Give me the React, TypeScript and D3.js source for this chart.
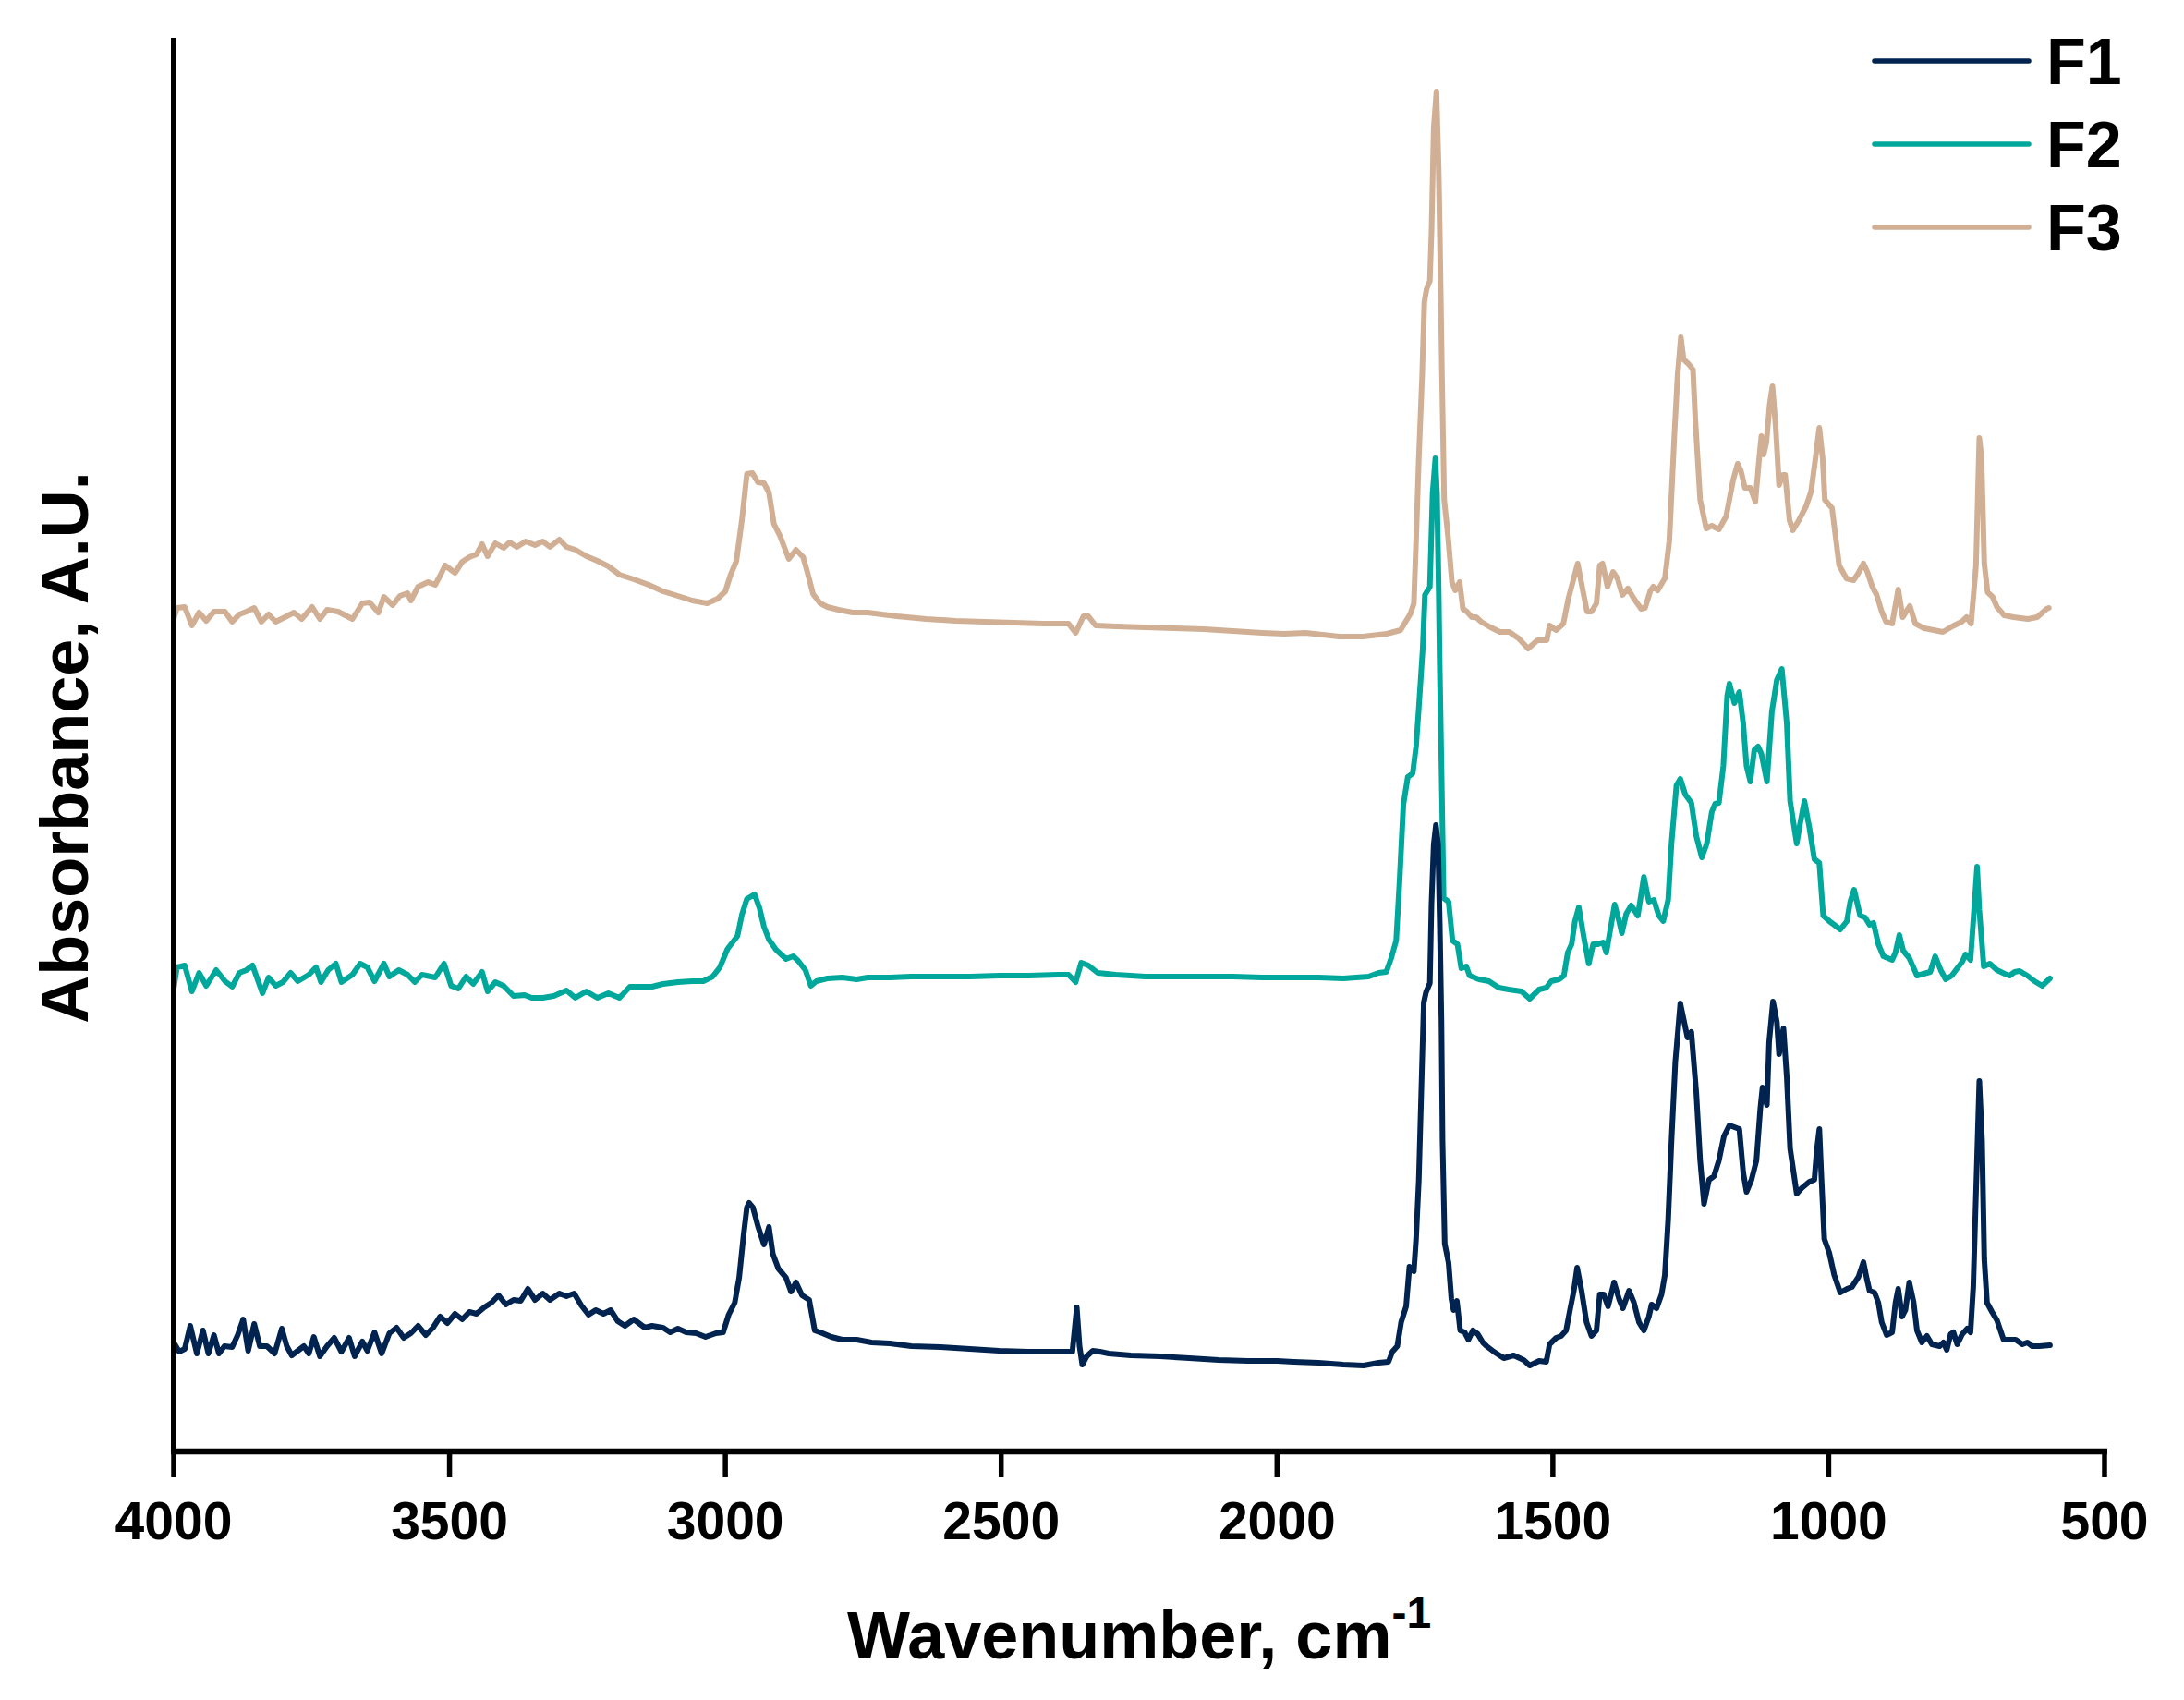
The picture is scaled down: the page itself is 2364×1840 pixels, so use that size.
import React from "react";
import * as d3 from "d3";

// ---- Data (wavenumber cm^-1, absorbance A.U., stacked offsets included) ----
const seriesNames = ["F1", "F2", "F3"];
const seriesColors = ["#00234F", "#00A89C", "#D1AF94"];
const xTicks = [4000, 3500, 3000, 2500, 2000, 1500, 1000, 500];

const f1Spectrum: [number, number][] = [
  [4000,0.118],[3990,0.108],[3980,0.111],[3970,0.136],[3958,0.106],[3947,0.131],[3937,0.106],[3927,0.126],[3918,0.106],[3908,0.114],
  [3894,0.113],[3884,0.126],[3874,0.143],[3865,0.109],[3854,0.138],[3844,0.114],[3831,0.114],[3817,0.106],[3804,0.133],[3795,0.114],
  [3786,0.104],[3775,0.109],[3764,0.114],[3755,0.106],[3746,0.124],[3735,0.103],[3722,0.114],[3709,0.123],[3696,0.108],[3682,0.123],
  [3672,0.103],[3658,0.119],[3649,0.109],[3636,0.129],[3623,0.106],[3609,0.128],[3596,0.134],[3583,0.123],[3570,0.128],[3557,0.136],
  [3543,0.126],[3530,0.134],[3517,0.146],[3504,0.139],[3490,0.149],[3477,0.143],[3464,0.151],[3451,0.149],[3437,0.156],[3424,0.161],
  [3411,0.169],[3398,0.159],[3384,0.164],[3371,0.163],[3358,0.176],[3345,0.164],[3331,0.171],[3318,0.164],[3301,0.171],[3288,0.168],
  [3274,0.171],[3261,0.158],[3248,0.148],[3235,0.153],[3221,0.149],[3208,0.153],[3195,0.141],[3182,0.136],[3166,0.143],[3146,0.134],
  [3133,0.136],[3113,0.134],[3100,0.129],[3086,0.133],[3071,0.129],[3053,0.128],[3036,0.124],[3017,0.128],[3004,0.129],[2994,0.148],
  [2983,0.161],[2975,0.188],[2967,0.234],[2961,0.264],[2957,0.269],[2950,0.264],[2941,0.244],[2930,0.224],[2921,0.243],[2914,0.214],
  [2904,0.198],[2890,0.188],[2881,0.173],[2872,0.183],[2861,0.169],[2848,0.164],[2838,0.131],[2824,0.128],[2808,0.124],[2788,0.121],
  [2762,0.121],[2735,0.118],[2702,0.117],[2663,0.114],[2610,0.113],[2557,0.111],[2504,0.109],[2451,0.108],[2385,0.108],[2371,0.108],
  [2363,0.156],[2358,0.114],[2353,0.094],[2345,0.103],[2334,0.109],[2321,0.108],[2305,0.106],[2265,0.104],[2212,0.103],[2159,0.101],
  [2106,0.099],[2053,0.098],[2000,0.098],
  [1970,0.097],[1925,0.096],[1880,0.094],[1843,0.093],[1816,0.096],[1798,0.097],[1791,0.108],[1782,0.114],[1775,0.140],[1766,0.157],
  [1760,0.200],[1752,0.195],[1748,0.230],[1743,0.294],[1739,0.379],[1734,0.486],[1730,0.497],[1723,0.507],[1720,0.593],[1716,0.657],
  [1712,0.678],[1708,0.657],[1705,0.571],[1702,0.465],[1700,0.336],[1696,0.225],[1689,0.204],[1684,0.165],[1680,0.153],[1674,0.163],
  [1668,0.131],[1660,0.129],[1653,0.121],[1645,0.131],[1636,0.127],[1627,0.118],[1620,0.114],[1607,0.108],[1589,0.101],[1571,0.104],
  [1553,0.099],[1542,0.093],[1525,0.098],[1512,0.097],[1506,0.116],[1494,0.123],[1485,0.125],[1476,0.131],[1469,0.153],[1462,0.174],
  [1456,0.199],[1448,0.174],[1439,0.140],[1430,0.125],[1421,0.131],[1415,0.170],[1408,0.170],[1400,0.157],[1389,0.183],[1380,0.165],
  [1373,0.155],[1362,0.174],[1353,0.161],[1344,0.140],[1335,0.131],[1326,0.146],[1321,0.159],[1312,0.155],[1303,0.170],[1297,0.191],
  [1291,0.251],[1285,0.336],[1278,0.422],[1269,0.485],[1262,0.465],[1256,0.448],[1249,0.454],[1240,0.388],[1233,0.315],[1226,0.268],
  [1217,0.294],[1208,0.298],[1199,0.315],[1190,0.341],[1180,0.353],[1171,0.351],[1162,0.349],[1155,0.302],[1149,0.281],[1140,0.294],
  [1131,0.315],[1124,0.371],[1120,0.394],[1112,0.375],[1108,0.443],[1101,0.487],[1094,0.465],[1090,0.430],[1082,0.458],[1076,0.405],
  [1070,0.328],[1058,0.279],[1049,0.285],[1035,0.292],[1026,0.294],[1022,0.324],[1017,0.349],[1013,0.294],[1008,0.230],[999,0.215],
  [990,0.191],[979,0.172],[967,0.176],[958,0.178],[946,0.189],[937,0.205],[931,0.187],[926,0.174],[917,0.172],[910,0.161],
  [904,0.140],[895,0.126],[885,0.129],[879,0.161],[874,0.176],[867,0.146],[861,0.153],[854,0.183],[846,0.161],[840,0.131],
  [831,0.118],[822,0.125],[813,0.116],[799,0.114],[792,0.118],[786,0.110],[779,0.127],[774,0.129],[767,0.116],[758,0.127],
  [749,0.133],[743,0.129],[738,0.178],[734,0.260],[727,0.401],[722,0.336],[718,0.208],[713,0.161],[704,0.151],[695,0.142],
  [683,0.121],[672,0.121],[661,0.121],[649,0.116],[640,0.118],[631,0.114],[618,0.114],[599,0.115],
];

const f2Spectrum: [number, number][] = [
  [4000,0.501],[3994,0.524],[3980,0.526],[3967,0.498],[3954,0.518],[3941,0.504],[3923,0.521],[3907,0.509],[3894,0.503],[3881,0.518],
  [3868,0.521],[3857,0.526],[3848,0.511],[3839,0.496],[3828,0.513],[3815,0.504],[3802,0.508],[3788,0.518],[3775,0.509],[3755,0.516],
  [3742,0.524],[3733,0.508],[3720,0.521],[3706,0.528],[3696,0.508],[3676,0.516],[3662,0.528],[3649,0.524],[3636,0.509],[3619,0.528],
  [3609,0.514],[3592,0.521],[3576,0.516],[3563,0.508],[3550,0.516],[3526,0.513],[3510,0.528],[3497,0.504],[3484,0.501],[3470,0.514],
  [3457,0.506],[3441,0.519],[3431,0.498],[3417,0.508],[3402,0.504],[3384,0.493],[3364,0.494],[3351,0.491],[3331,0.491],[3311,0.493],
  [3288,0.499],[3272,0.491],[3252,0.498],[3232,0.491],[3212,0.496],[3192,0.491],[3173,0.503],[3153,0.503],[3133,0.503],[3113,0.506],
  [3086,0.508],[3060,0.509],[3040,0.509],[3023,0.514],[3010,0.524],[2996,0.544],[2987,0.551],[2978,0.558],[2970,0.581],[2961,0.598],
  [2947,0.603],[2938,0.588],[2930,0.568],[2921,0.554],[2908,0.543],[2890,0.533],[2877,0.536],[2868,0.531],[2855,0.521],[2845,0.504],
  [2835,0.509],[2815,0.512],[2788,0.513],[2762,0.511],[2742,0.513],[2702,0.513],[2663,0.514],[2610,0.514],[2557,0.514],[2503,0.515],
  [2450,0.515],[2397,0.516],[2378,0.516],[2365,0.508],[2355,0.529],[2342,0.526],[2325,0.518],[2292,0.516],[2239,0.514],[2186,0.514],
  [2133,0.514],[2080,0.514],[2027,0.513],
  [1970,0.513],[1925,0.513],[1880,0.512],[1834,0.514],[1816,0.518],[1802,0.519],[1793,0.534],[1784,0.553],[1778,0.616],[1771,0.700],
  [1763,0.730],[1754,0.734],[1748,0.763],[1743,0.805],[1736,0.868],[1732,0.927],[1723,0.936],[1718,1.037],[1713,1.075],[1710,1.037],
  [1707,0.932],[1705,0.847],[1702,0.742],[1698,0.599],[1689,0.595],[1682,0.553],[1673,0.549],[1666,0.523],[1657,0.525],[1651,0.515],
  [1634,0.511],[1616,0.509],[1598,0.502],[1580,0.500],[1557,0.498],[1542,0.490],[1525,0.500],[1512,0.502],[1503,0.509],[1489,0.511],
  [1480,0.515],[1473,0.540],[1466,0.549],[1460,0.574],[1453,0.589],[1444,0.557],[1435,0.528],[1427,0.549],[1418,0.549],[1409,0.551],
  [1403,0.540],[1397,0.561],[1388,0.592],[1380,0.574],[1375,0.561],[1367,0.582],[1358,0.591],[1346,0.580],[1335,0.622],[1326,0.595],
  [1317,0.597],[1308,0.580],[1300,0.574],[1291,0.597],[1285,0.658],[1276,0.721],[1269,0.728],[1260,0.711],[1249,0.702],[1240,0.666],
  [1230,0.643],[1221,0.658],[1212,0.692],[1206,0.701],[1199,0.702],[1191,0.742],[1184,0.818],[1180,0.831],[1171,0.810],[1162,0.822],
  [1155,0.788],[1149,0.742],[1142,0.725],[1135,0.759],[1128,0.763],[1122,0.755],[1112,0.725],[1103,0.801],[1094,0.835],[1085,0.847],
  [1076,0.788],[1070,0.704],[1058,0.658],[1052,0.679],[1044,0.704],[1035,0.675],[1026,0.641],[1017,0.637],[1010,0.580],[999,0.574],
  [990,0.570],[979,0.565],[967,0.574],[961,0.595],[954,0.608],[943,0.580],[934,0.578],[926,0.570],[919,0.572],[910,0.549],
  [901,0.536],[885,0.532],[879,0.540],[872,0.559],[865,0.542],[854,0.534],[840,0.515],[828,0.517],[816,0.519],[807,0.536],
  [797,0.521],[788,0.511],[777,0.515],[767,0.523],[758,0.530],[752,0.538],[743,0.532],[738,0.574],[731,0.633],[727,0.586],
  [719,0.525],[708,0.528],[695,0.521],[681,0.517],[672,0.515],[663,0.519],[654,0.520],[640,0.515],[627,0.509],[613,0.504],[599,0.512],
];

const f3Spectrum: [number, number][] = [
  [4000,0.901],[3994,0.913],[3980,0.914],[3967,0.894],[3954,0.908],[3941,0.899],[3927,0.909],[3907,0.909],[3894,0.898],[3881,0.906],
  [3868,0.909],[3854,0.913],[3841,0.898],[3828,0.906],[3815,0.898],[3795,0.904],[3782,0.908],[3768,0.901],[3749,0.914],[3735,0.901],
  [3722,0.911],[3702,0.909],[3676,0.901],[3658,0.918],[3645,0.919],[3629,0.908],[3619,0.925],[3603,0.916],[3590,0.926],[3576,0.929],
  [3570,0.921],[3557,0.936],[3539,0.941],[3526,0.938],[3517,0.948],[3508,0.959],[3490,0.951],[3477,0.963],[3464,0.968],[3451,0.971],
  [3441,0.982],[3431,0.969],[3417,0.983],[3402,0.978],[3391,0.984],[3378,0.979],[3362,0.985],[3345,0.981],[3331,0.985],[3318,0.979],
  [3301,0.987],[3288,0.979],[3272,0.976],[3252,0.969],[3232,0.964],[3212,0.958],[3192,0.949],[3166,0.944],[3139,0.938],[3113,0.931],
  [3086,0.926],[3060,0.921],[3033,0.918],[3014,0.923],[3000,0.931],[2991,0.948],[2980,0.964],[2970,1.008],[2961,1.058],[2951,1.059],
  [2941,1.049],[2930,1.048],[2921,1.038],[2912,1.004],[2901,0.991],[2885,0.966],[2872,0.976],[2859,0.968],[2851,0.951],[2841,0.928],
  [2828,0.918],[2815,0.914],[2795,0.911],[2769,0.908],[2742,0.908],[2716,0.906],[2689,0.904],[2636,0.901],[2583,0.899],[2530,0.898],
  [2477,0.897],[2424,0.896],[2378,0.896],[2365,0.886],[2351,0.904],[2342,0.904],[2329,0.894],[2292,0.893],[2239,0.892],[2186,0.891],
  [2133,0.890],[2080,0.888],[2027,0.886],[1987,0.885],[1948,0.886],
  [1887,0.882],[1844,0.882],[1801,0.885],[1776,0.889],[1767,0.898],[1758,0.907],[1752,0.918],[1748,0.985],[1743,1.075],[1737,1.164],
  [1733,1.244],[1729,1.258],[1723,1.267],[1720,1.320],[1716,1.432],[1711,1.472],[1707,1.387],[1705,1.320],[1701,1.164],[1697,1.030],
  [1690,0.990],[1683,0.941],[1677,0.932],[1669,0.941],[1663,0.912],[1656,0.909],[1647,0.903],[1639,0.903],[1630,0.898],[1613,0.892],
  [1596,0.887],[1579,0.887],[1562,0.880],[1545,0.869],[1528,0.878],[1511,0.878],[1506,0.894],[1494,0.889],[1481,0.896],[1472,0.923],
  [1464,0.941],[1455,0.961],[1447,0.936],[1438,0.909],[1430,0.909],[1421,0.918],[1415,0.959],[1410,0.961],[1401,0.936],[1391,0.952],
  [1383,0.945],[1374,0.927],[1364,0.934],[1353,0.923],[1340,0.912],[1333,0.913],[1323,0.932],[1318,0.936],[1310,0.932],[1297,0.945],
  [1289,0.985],[1280,1.097],[1274,1.164],[1268,1.206],[1263,1.182],[1254,1.177],[1246,1.171],[1242,1.119],[1233,1.030],[1222,0.999],
  [1212,1.002],[1199,0.998],[1186,1.012],[1173,1.052],[1165,1.069],[1159,1.061],[1152,1.043],[1142,1.043],[1133,1.028],[1126,1.075],
  [1122,1.099],[1118,1.079],[1113,1.092],[1107,1.133],[1102,1.153],[1096,1.108],[1090,1.046],[1083,1.057],[1079,1.057],[1071,1.008],
  [1065,0.997],[1054,1.008],[1041,1.023],[1032,1.039],[1024,1.075],[1017,1.108],[1011,1.075],[1007,1.030],[994,1.021],[981,0.959],
  [968,0.945],[955,0.943],[947,0.950],[937,0.961],[930,0.952],[921,0.936],[913,0.927],[904,0.909],[896,0.898],[885,0.896],
  [874,0.933],[866,0.903],[853,0.915],[843,0.896],[827,0.891],[810,0.889],[793,0.887],[776,0.893],[759,0.898],[750,0.903],
  [742,0.896],[733,0.959],[727,1.097],[723,1.075],[718,0.961],[712,0.930],[703,0.925],[695,0.914],[682,0.905],[665,0.903],
  [639,0.901],[622,0.903],[605,0.912],[601,0.913],
];

const spectra = [f1Spectrum, f2Spectrum, f3Spectrum];

// ---- Layout ----
const W = 2364;
const H = 1840;
const M = { left: 188, right: 2278, top: 41, bottom: 1571 };
const FONT = "'Liberation Sans', Arial, Helvetica, sans-serif";

export default function App() {
  const x = d3.scaleLinear().domain([4000, 500]).range([M.left, M.right]);
  const y = d3.scaleLinear().domain([0, 1.53]).range([M.bottom, M.top]);
  const line = d3
    .line<[number, number]>()
    .x((d) => x(d[0]))
    .y((d) => y(d[1]))
    .curve(d3.curveLinear);

  const drawOrder = [2, 1, 0];
  const legendY = [66, 156, 246];

  return (
    <svg
      width={W}
      height={H}
      viewBox={`0 0 ${W} ${H}`}
      style={{ position: "absolute", left: 0, top: 0, background: "#fff" }}
      fontFamily={FONT}
    >
      <rect x={0} y={0} width={W} height={H} fill="#fff" />
      {drawOrder.map((i) => (
        <path
          key={seriesNames[i]}
          d={line(spectra[i]) || ""}
          fill="none"
          stroke={seriesColors[i]}
          strokeWidth={6}
          strokeLinejoin="round"
          strokeLinecap="round"
        />
      ))}

      {/* Y axis line */}
      <line x1={M.left} x2={M.left} y1={M.top} y2={M.bottom} stroke="#000" strokeWidth={6} />
      {/* X axis line */}
      <line x1={M.left - 3} x2={M.right + 3} y1={M.bottom} y2={M.bottom} stroke="#000" strokeWidth={6.5} />
      {xTicks.map((t) => (
        <g key={t}>
          <line x1={x(t)} x2={x(t)} y1={M.bottom} y2={M.bottom + 28} stroke="#000" strokeWidth={5.5} />
          <text
            x={x(t)}
            y={1666}
            textAnchor="middle"
            fontSize={57}
            fontWeight="bold"
            fill="#000"
          >
            {t}
          </text>
        </g>
      ))}

      {/* X title */}
      <text x={(M.left + M.right) / 2} y={1795} textAnchor="middle" fontSize={72} fontWeight="bold" fill="#000">
        Wavenumber, cm
        <tspan fontSize={48} dy={-33}>-1</tspan>
      </text>

      {/* Y title */}
      <text
        transform={`translate(95, ${(M.top + M.bottom) / 2 + 3}) rotate(-90)`}
        textAnchor="middle"
        fontSize={72}
        fontWeight="bold"
        fill="#000"
      >
        Absorbance, A.U.
      </text>

      {/* Legend */}
      {seriesNames.map((n, i) => (
        <g key={n}>
          <line x1={2029} x2={2196} y1={legendY[i]} y2={legendY[i]} stroke={seriesColors[i]} strokeWidth={5.5} strokeLinecap="round" />
          <text x={2215} y={legendY[i] + 25} fontSize={70} fontWeight="bold" fill="#000">
            {n}
          </text>
        </g>
      ))}
    </svg>
  );
}
